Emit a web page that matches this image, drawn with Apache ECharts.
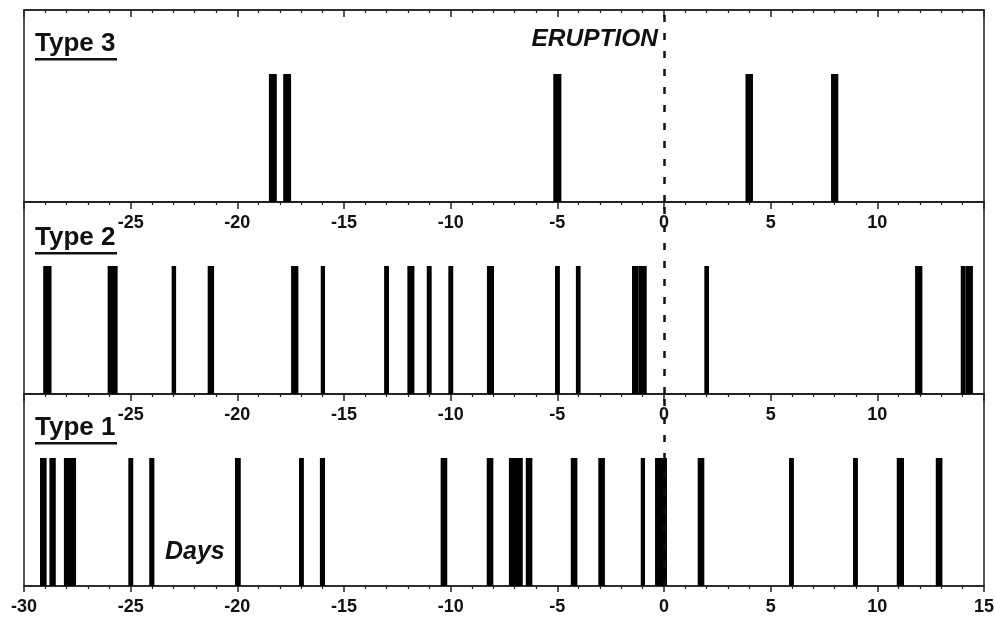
<!DOCTYPE html>
<html>
<head>
<meta charset="utf-8">
<title>Seismic event types before and after the eruption</title>
<script src="https://cdn.jsdelivr.net/npm/echarts@6/dist/echarts.min.js"></script>
<style>
  html, body { margin: 0; padding: 0; background: #fff; }
  #chart { width: 995px; height: 618px; }
</style>
</head>
<body>
<div id="chart"></div>
<script>
// Episodes of each event type, as [start, end] in days relative to the eruption (day 0).
const type3Bursts = [
  [-18.52, -18.15], [-17.85, -17.48], [-5.19, -4.81], [3.82, 4.17], [7.83, 8.17]
];
const type2Bursts = [
  [-29.10, -28.71], [-26.08, -25.61], [-23.08, -22.87], [-21.39, -21.09],
  [-17.48, -17.14], [-16.09, -15.89], [-13.12, -12.89], [-12.03, -11.70],
  [-11.12, -10.89], [-10.11, -9.88], [-8.30, -7.97], [-5.11, -4.88],
  [-4.13, -3.91], [-1.50, -1.19], [-1.19, -0.81], [1.89, 2.11],
  [11.77, 12.11], [13.91, 14.13], [14.13, 14.48]
];
const type1Bursts = [
  [-29.25, -28.94], [-28.81, -28.51], [-28.13, -27.56], [-25.11, -24.88],
  [-24.13, -23.89], [-20.11, -19.84], [-17.11, -16.88], [-16.13, -15.89],
  [-10.47, -10.16], [-8.31, -8.00], [-7.27, -6.62], [-6.48, -6.17],
  [-4.37, -4.06], [-3.08, -2.77], [-1.09, -0.89], [-0.42, 0.14],
  [1.58, 1.89], [5.86, 6.09], [8.86, 9.09], [10.91, 11.25], [12.74, 13.05]
];

// Shared time axis (days)
const dayMin = -30;
const dayMax = 15;
const dayStep = 5;
const eruptionDay = 0;
const panelNames = ['Type 3', 'Type 2', 'Type 1'];
const EVENT_LEVEL = 1;

const INK = '#111';
const FONT = '"Liberation Sans", Arial, sans-serif';

const chart = echarts.init(document.getElementById('chart'), null, { renderer: 'canvas' });

// Three stacked panels sharing the same day scale
const grids = [0, 1, 2].map(i => ({
  left: 24, right: 11, top: 10 + i * 192, height: 192,
  outerBoundsMode: 'none', containLabel: false,
  show: true, borderColor: '#222', borderWidth: 1.5,
  backgroundColor: 'transparent'
}));

function dayAxis(gridIndex, position, opts) {
  return Object.assign({
    type: 'value', gridIndex, position,
    min: dayMin, max: dayMax, interval: dayStep,
    splitLine: { show: false },
    axisLine: { show: true, onZero: false, lineStyle: { color: '#222', width: 1.5 } },
    axisTick: { show: true, inside: true, length: 7, lineStyle: { color: '#222', width: 1.5 } },
    minorTick: { show: true, splitNumber: 5, length: 3, lineStyle: { color: '#222', width: 1.2 } },
    axisLabel: { show: false }
  }, opts);
}

const innerLabel = {
  show: true, inside: true, margin: 12,
  showMinLabel: false, showMaxLabel: false,
  color: INK, fontFamily: FONT, fontWeight: 'bold', fontSize: 18
};

const xAxes = [
  dayAxis(0, 'top'),
  dayAxis(1, 'top', { axisLabel: innerLabel }),
  dayAxis(2, 'top', { axisLabel: innerLabel }),
  dayAxis(2, 'bottom', {
    axisTick: { show: true, inside: false, length: 6, lineStyle: { color: '#222', width: 1.5 } },
    axisLabel: { show: true, margin: 12, color: INK, fontFamily: FONT, fontWeight: 'bold', fontSize: 18 }
  })
];

const yAxes = [0, 1, 2].map(i => ({
  type: 'value', gridIndex: i, min: 0, max: 1.5,
  show: false
}));

function renderBurst(params, api) {
  const p0 = api.coord([api.value(0), 0]);
  const p1 = api.coord([api.value(1), api.value(2)]);
  return {
    type: 'rect',
    shape: { x: p0[0], y: p1[1], width: Math.max(p1[0] - p0[0], 1), height: p0[1] - p1[1] },
    style: { fill: '#000' }
  };
}

const eruptionLine = {
  silent: true,
  symbol: ['none', 'none'],
  label: { show: false },
  lineStyle: { color: INK, width: 2.5, type: [7, 11], opacity: 1 },
  emphasis: { disabled: true },
  data: [{ xAxis: eruptionDay }]
};

const bursts = [type3Bursts, type2Bursts, type1Bursts];
const xIndexFor = [0, 1, 3];

const series = bursts.map((list, i) => ({
  name: panelNames[i],
  type: 'custom',
  xAxisIndex: xIndexFor[i],
  yAxisIndex: i,
  renderItem: renderBurst,
  encode: { x: [0, 1], y: 2 },
  clip: true,
  silent: true,
  data: list.map(b => [b[0], b[1], EVENT_LEVEL]),
  markLine: eruptionLine
}));

// Panel titles (underlined), eruption marker caption and axis title
const titleBaselines = [54, 248, 438];
const graphics = [];
panelNames.forEach((name, i) => {
  graphics.push({
    type: 'text', left: 35, top: titleBaselines[i] - 23,
    style: { text: name, font: 'bold 26px ' + FONT, fill: INK }
  });
  graphics.push({
    type: 'rect', left: 35, top: titleBaselines[i] + 4,
    shape: { width: 82, height: 2.5 },
    style: { fill: INK }
  });
});
graphics.push({
  type: 'text', right: 995 - 658, top: 27,
  style: { text: 'ERUPTION', font: 'italic bold 24.5px ' + FONT, fill: INK }
});
graphics.push({
  type: 'text', left: 165, top: 540,
  style: { text: 'Days', font: 'italic bold 25px ' + FONT, fill: INK }
});

chart.setOption({
  animation: false,
  backgroundColor: '#fff',
  grid: grids,
  xAxis: xAxes,
  yAxis: yAxes,
  series,
  graphic: graphics
});
</script>
</body>
</html>
